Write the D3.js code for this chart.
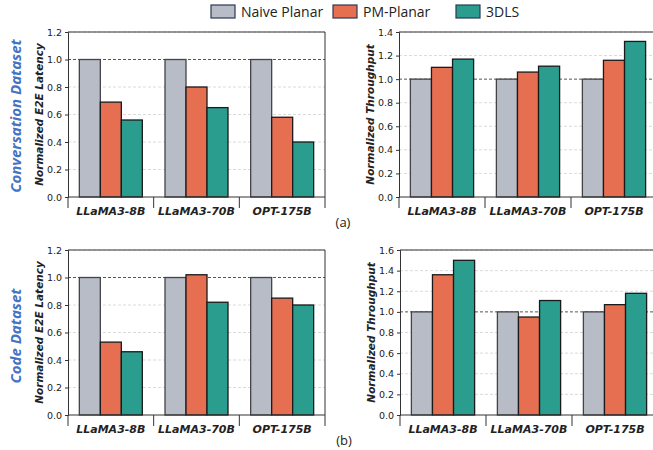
<!DOCTYPE html>
<html>
<head>
    <title>Latency and throughput</title>
    <style type="text/css">
        body { margin: 0; background: #fff; }
        svg text { font-family: "DejaVu Sans", sans-serif; fill: #222; }
        .tick text { font-size: 9.5px; }
        .ylab { font-size: 10.5px; font-weight: bold; font-style: italic; }
        .cat { font-size: 11px; font-weight: bold; font-style: italic; }
        .legend text { font-family: "Open Sans", sans-serif; font-size: 14px; }
        .dataset { font-family: "Open Sans", sans-serif; font-size: 15px; font-weight: bold; font-style: italic; fill: #4472c4 !important; }
        .sub { font-family: "Open Sans", sans-serif; font-size: 13px; }
    </style>
</head>
<body>
<script src="https://cdn.jsdelivr.net/npm/d3@7"></script>
<script type="text/javascript">

var models = ['LLaMA3-8B', 'LLaMA3-70B', 'OPT-175B'];
var series = ['Naive Planar', 'PM-Planar', '3DLS'];
var colors = ['#b7bcc6', '#e76f51', '#2a9d8f'];

// values per model: [naive, pm, 3dls]
var convLatency = [[1.0, 0.69, 0.56], [1.0, 0.80, 0.65], [1.0, 0.58, 0.40]];
var convThroughput = [[1.0, 1.10, 1.17], [1.0, 1.06, 1.11], [1.0, 1.16, 1.32]];
var codeLatency = [[1.0, 0.53, 0.46], [1.0, 1.02, 0.82], [1.0, 0.85, 0.80]];
var codeThroughput = [[1.0, 1.36, 1.50], [1.0, 0.95, 1.11], [1.0, 1.07, 1.18]];

var latencyTicks = [0, 0.2, 0.4, 0.6, 0.8, 1.0, 1.2];
var convTpTicks = [0, 0.2, 0.4, 0.6, 0.8, 1.0, 1.2, 1.4];
var codeTpTicks = [0, 0.2, 0.4, 0.6, 0.8, 1.0, 1.2, 1.4, 1.6];

var svg = d3.select('body').append('svg')
    .attr('width', 653)
    .attr('height', 450);

function panel(box, data, ticks, label) {
    var g = svg.append('g');
    var x0 = d3.scaleBand().domain(models).range([box.left, box.right]);
    var x1 = d3.scaleBand().domain(series).range([0, x0.bandwidth()]).paddingOuter(0.54);
    var y = d3.scaleLinear().domain([0, d3.max(ticks)]).range([box.bottom, box.top]);

    // grid
    g.selectAll('line.grid').data(ticks.filter(function (t) { return t > 0; }))
        .enter().append('line')
        .attr('x1', box.left).attr('x2', box.right)
        .attr('y1', function (d) { return y(d); })
        .attr('y2', function (d) { return y(d); })
        .attr('stroke', function (d) { return d === 1 ? '#555' : '#d0d0d0'; })
        .attr('stroke-width', function (d) { return d === 1 ? 1 : 0.8; })
        .attr('stroke-dasharray', '3,2');

    // bars
    var groups = g.selectAll('g.grp').data(data).enter().append('g')
        .attr('transform', function (d, i) { return 'translate(' + x0(models[i]) + ',0)'; });
    groups.selectAll('rect').data(function (d) { return d; }).enter().append('rect')
        .attr('x', function (d, j) { return x1(series[j]); })
        .attr('width', x1.bandwidth())
        .attr('y', function (d) { return y(d); })
        .attr('height', function (d) { return y(0) - y(d); })
        .attr('fill', function (d, j) { return colors[j]; })
        .attr('stroke', function (d, j) { return j === 0 ? '#444' : '#1a1a1a'; })
        .attr('stroke-width', 1.3);

    // frame: top, right, bottom
    var frame = g.append('g').attr('stroke', '#333').attr('stroke-width', 1);
    frame.append('line').attr('x1', box.left).attr('x2', box.right).attr('y1', box.top).attr('y2', box.top);
    frame.append('line').attr('x1', box.right).attr('x2', box.right).attr('y1', box.top).attr('y2', box.bottom);
    frame.append('line').attr('x1', box.left).attr('x2', box.right).attr('y1', box.bottom).attr('y2', box.bottom);

    var yAxis = g.append('g')
        .attr('transform', 'translate(' + box.left + ',0)')
        .call(d3.axisLeft(y).tickValues(ticks).tickFormat(d3.format('.1f')).tickSizeOuter(0).tickSize(3));
    yAxis.select('.domain').attr('stroke', '#333');
    yAxis.selectAll('.tick line').attr('stroke', '#333');
    yAxis.selectAll('.tick text').attr('fill', '#222');

    // group separators below axis
    var seps = [box.left].concat(models.map(function (m) { return x0(m) + x0.bandwidth(); }));
    g.selectAll('line.sep').data(seps).enter().append('line')
        .attr('x1', function (d) { return d; }).attr('x2', function (d) { return d; })
        .attr('y1', box.bottom).attr('y2', box.bottom + 11)
        .attr('stroke', '#333').attr('stroke-width', 1);

    g.selectAll('text.cat').data(models).enter().append('text')
        .attr('class', 'cat')
        .attr('x', function (d) { return x0(d) + x0.bandwidth() / 2; })
        .attr('y', box.bottom + 18)
        .attr('text-anchor', 'middle')
        .text(function (d) { return d; });

    g.append('text')
        .attr('class', 'ylab')
        .attr('transform', 'translate(' + (box.left - 25) + ',' + ((box.top + box.bottom) / 2) + ') rotate(-90)')
        .attr('text-anchor', 'middle')
        .text(label);
}

panel({ left: 68, right: 325, top: 32, bottom: 197 }, convLatency, latencyTicks, 'Normalized E2E Latency');
panel({ left: 399, right: 657, top: 32, bottom: 197 }, convThroughput, convTpTicks, 'Normalized Throughput');
panel({ left: 68, right: 325, top: 250, bottom: 415 }, codeLatency, latencyTicks, 'Normalized E2E Latency');
panel({ left: 400, right: 658, top: 250, bottom: 415 }, codeThroughput, codeTpTicks, 'Normalized Throughput');

// legend
var legendX = [211, 333, 456];
var legend = svg.append('g').attr('class', 'legend');
var items = legend.selectAll('g').data(series).enter().append('g')
    .attr('transform', function (d, i) { return 'translate(' + legendX[i] + ',5)'; });
items.append('rect')
    .attr('width', 24).attr('height', 13)
    .attr('fill', function (d, i) { return colors[i]; })
    .attr('stroke', '#2b3a55').attr('stroke-width', 1.2);
items.append('text')
    .attr('x', 30).attr('y', 11.5)
    .text(function (d) { return d; });

svg.append('text').attr('class', 'dataset')
    .attr('transform', 'translate(21,116) rotate(-90)')
    .attr('text-anchor', 'middle')
    .text('Conversation Dataset');
svg.append('text').attr('class', 'dataset')
    .attr('transform', 'translate(21,336) rotate(-90)')
    .attr('text-anchor', 'middle')
    .text('Code Dataset');

svg.append('text').attr('class', 'sub').attr('x', 343).attr('y', 227).attr('text-anchor', 'middle').text('(a)');
svg.append('text').attr('class', 'sub').attr('x', 344).attr('y', 445).attr('text-anchor', 'middle').text('(b)');

</script>
</body>
</html>
